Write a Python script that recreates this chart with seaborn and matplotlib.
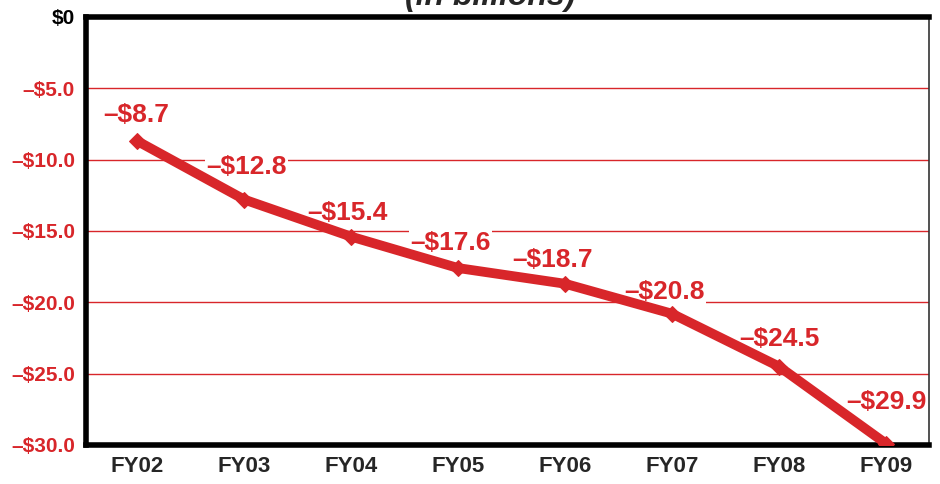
import matplotlib.pyplot as plt
import pandas as pd
import seaborn as sns

# Data (in billions)
years = ["FY02", "FY03", "FY04", "FY05", "FY06", "FY07", "FY08", "FY09"]
values = [-8.7, -12.8, -15.4, -17.6, -18.7, -20.8, -24.5, -29.9]
tick_values = [0, -5, -10, -15, -20, -25, -30]
tick_labels = ["$0", "\u2013$5.0", "\u2013$10.0", "\u2013$15.0", "\u2013$20.0", "\u2013$25.0", "\u2013$30.0"]

# label placement relative to each point (pixels)
label_dx = [-1, 2, -4, -8, -13, -8, 0, 0]
label_dy = [26, 33, 24, 25, 24, 22, 28, 42]

red = "#d8262a"
df = pd.DataFrame({"year": years, "value": values})

sns.set_style("white")
plt.rcParams["font.family"] = ["Liberation Sans", "DejaVu Sans"]

fig = plt.figure(figsize=(9.4, 4.84), dpi=100)
ax = fig.add_axes([0.0915, 0.0806, 0.8965, 0.8844])

# Line
sns.lineplot(data=df, x="year", y="value", ax=ax, color=red, linewidth=7,
             marker="D", markersize=8, markeredgecolor=red, zorder=3)

# Value labels (white box hides gridlines, line drawn on top)
for i, v in enumerate(values):
    ax.annotate("\u2013$%.1f" % abs(v), (i, v), xytext=(label_dx[i], label_dy[i]),
                textcoords="offset pixels", ha="center", va="center",
                fontsize=19, fontweight="bold", color=red,
                bbox=dict(boxstyle="square,pad=0.05", fc="white", ec="none"), zorder=2.5)

# Axes
ax.set_ylim(-30, 0)
ax.set_xlim(-0.48, 7.4)
ax.set_yticks(tick_values)
ax.set_yticklabels(tick_labels, fontsize=15, fontweight="bold")
for lbl, val in zip(ax.get_yticklabels(), tick_values):
    lbl.set_color("black" if val == 0 else red)
ax.tick_params(axis="y", length=0, pad=8)
ax.grid(axis="y", color=red, linewidth=1)
ax.set_axisbelow(True)

ax.set_xticks(range(len(years)))
ax.set_xticklabels(years, fontsize=16, fontweight="bold")
ax.tick_params(axis="x", which="major", length=0, pad=8)
ax.set_xticks([i + 0.5 for i in range(len(years) - 1)], minor=True)
ax.tick_params(axis="x", which="minor", direction="inout", length=9, width=4, color="black")
ax.set_xlabel("")
ax.set_ylabel("")

for side in ["left", "top", "bottom"]:
    ax.spines[side].set_linewidth(4)
    ax.spines[side].set_color("black")
ax.spines["right"].set_linewidth(1.2)
ax.spines["right"].set_color("#333333")

# Subtitle (cut off at the top edge, as in the source)
fig.text(0.521, 1 - 5 / 484, "(in billions)", ha="center", va="baseline",
         fontsize=23, fontweight="bold", fontstyle="italic")

fig.savefig("out.png", dpi=100)
plt.close(fig)
